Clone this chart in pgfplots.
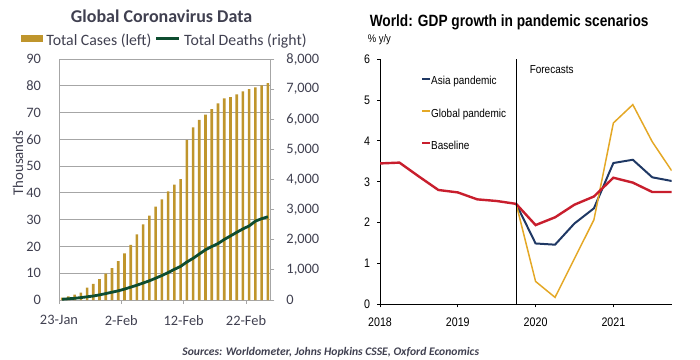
\documentclass[border=0pt]{standalone}
\usepackage{pgfplots}
\pgfplotsset{compat=1.18}
\usepackage{fontspec}
\setmainfont{Carlito}
\newfontfamily\arialn[FakeStretch=0.86]{Liberation Sans}
\newfontfamily\arialt[FakeStretch=0.84]{Liberation Sans}
\definecolor{gold}{RGB}{191,149,44}
\definecolor{dgreen}{RGB}{14,77,48}
\definecolor{textc}{RGB}{64,64,80}
\definecolor{gridc}{RGB}{166,166,166}
\definecolor{navy}{RGB}{31,56,100}
\definecolor{ygold}{RGB}{228,168,38}
\definecolor{bred}{RGB}{200,30,45}

\pgfplotstableread{
d cases deaths
0 0.85 25
1 1.32 41
2 2.02 56
3 2.80 80
4 4.58 106
5 6.06 132
6 7.81 170
7 9.82 213
8 11.95 259
9 14.55 304
10 17.39 362
11 20.63 426
12 24.55 492
13 28.28 565
14 31.48 638
15 34.89 724
16 37.56 813
17 40.55 910
18 43.10 1018
19 45.17 1115
20 59.8 1261
21 64.5 1383
22 67.3 1526
23 69.2 1669
24 71.3 1775
25 73.4 1873
26 75.3 2009
27 75.8 2126
28 76.8 2247
29 77.9 2360
30 78.8 2460
31 79.4 2618
32 80.2 2699
33 81.0 2763
}\covid

\begin{document}
\begin{tikzpicture}[x=1pt,y=1pt]
\path[use as bounding box] (0,0) rectangle (350,179.5);

% ---------------- Left chart ----------------
\begin{axis}[
  at={(29.5pt,29.5pt)}, anchor=south west,
  scale only axis, width=106pt, height=120.5pt,
  xmin=-0.5, xmax=33.5, ymin=0, ymax=90,
  axis x line*=bottom, axis y line*=left,
  axis line style={gridc, line width=0.5pt},
  ytick={0,10,...,90},
  xtick={-0.5,9.5,19.5,29.5},
  xticklabels={23-Jan,2-Feb,12-Feb,22-Feb},
  ymajorgrids, grid style={gridc, line width=0.5pt},
  ytick style={draw=none},
  xtick style={gridc, line width=0.5pt},
  tick align=outside, major tick length=2pt,
  /pgf/number format/assume math mode=true,
  tick label style={font=\fontsize{7.2}{8}\selectfont, text=textc},
  yticklabel style={xshift=-3.5pt},
  xticklabel style={yshift=-2.2pt},
  ylabel={Thousands},
  ylabel style={at={(-0.193,0.568)}, anchor=center, rotate=0, font=\fontsize{7.4}{8}\selectfont, text=textc},
  legend columns=2,
  legend style={at={(0.4976,1.0705)}, anchor=center, draw=none, fill=none,
    inner sep=0pt, column sep=1.2pt,
    nodes={inner sep=0.5pt, text height=5pt, text depth=1.5pt},
    font=\fontsize{7.9}{8.5}\selectfont, text=textc},
]
\addplot[ybar, bar width=1.3pt, fill=gold, draw=none, forget plot] table[x=d, y=cases] {\covid};
\addlegendimage{legend image code/.code={\fill[gold] (0pt,0.4pt) rectangle (10.5pt,3.4pt);}}
\addlegendentry{Total Cases (left)\hspace{2pt}}
\addlegendimage{legend image code/.code={\draw[dgreen, line width=1.5pt] (0pt,2pt) -- (11.5pt,2pt);}}
\addlegendentry{Total Deaths (right)}
\end{axis}

\begin{axis}[
  at={(29.5pt,29.5pt)}, anchor=south west,
  scale only axis, width=106pt, height=120.5pt,
  xmin=-0.5, xmax=33.5, ymin=0, ymax=8000,
  axis x line=none, axis y line*=right,
  axis line style={gridc, line width=0.5pt},
  ytick={0,1000,...,8000},
  ytick style={gridc, line width=0.5pt},
  tick align=outside, major tick length=1.7pt,
  /pgf/number format/assume math mode=true,
  /pgf/number format/1000 sep={,},
  scaled y ticks=false,
  tick label style={font=\fontsize{7.2}{8}\selectfont, text=textc},
  yticklabel style={xshift=2.5pt},
]
\addplot[dgreen, line width=1.4pt] table[x=d, y=deaths] {\covid};
\end{axis}

\node[anchor=base, inner sep=0pt, font=\bfseries\fontsize{9}{10}\selectfont, text=textc] at (80.8,168.2) {Global Coronavirus Data};

% ---------------- Right chart ----------------
\begin{axis}[
  at={(190pt,27.35pt)}, anchor=south west,
  scale only axis, width=145.85pt, height=122.5pt,
  xmin=2018, xmax=2021.75, ymin=0, ymax=6,
  axis x line*=bottom, axis y line*=left,
  axis line style={black, line width=0.5pt},
  xtick={2018,2019,2020,2021}, ytick={0,1,...,6},
  tick style={black, line width=0.5pt},
  tick align=outside, major tick length=1.5pt,
  /pgf/number format/assume math mode=true,
  xticklabel style={/pgf/number format/1000 sep={}, yshift=-1.5pt},
  yticklabel style={xshift=0pt},
  tick label style={font=\arialn\fontsize{6.2}{7}\selectfont, text=black},
  legend cell align=left,
  legend style={at={(0.1406,0.932)}, anchor=north west, draw=none, fill=none,
    inner sep=0pt, row sep=10.3pt, column sep=0pt,
    nodes={inner sep=0.3pt, text height=4pt, text depth=1.2pt},
    font=\arialn\fontsize{5.8}{6.5}\selectfont},
  legend image code/.code={\draw[#1, line width=1pt] (0pt,1.7pt) -- (3.6pt,1.7pt);},
]
\addplot[navy, line width=1pt] coordinates {
(2019.75,2.46)(2020,1.49)(2020.25,1.46)(2020.5,1.98)(2020.75,2.35)(2021,3.46)(2021.25,3.54)(2021.5,3.11)(2021.75,3.02)};
\addlegendentry{Asia pandemic}
\addplot[ygold, line width=0.75pt] coordinates {
(2019.75,2.46)(2020,0.56)(2020.25,0.17)(2020.5,1.12)(2020.75,2.07)(2021,4.44)(2021.25,4.89)(2021.5,3.98)(2021.75,3.27)};
\addlegendentry{Global pandemic}
\addplot[bred, line width=1.2pt] coordinates {
(2018,3.45)(2018.25,3.47)(2018.5,3.13)(2018.75,2.80)(2019,2.74)(2019.25,2.57)(2019.5,2.53)(2019.75,2.46)(2020,1.94)(2020.25,2.13)(2020.5,2.44)(2020.75,2.64)(2021,3.10)(2021.25,2.98)(2021.5,2.75)(2021.75,2.75)};
\addlegendentry{Baseline}
\addplot[black, line width=0.5pt, forget plot] coordinates {(2019.75,0)(2019.75,6)};
\node[anchor=base west, inner sep=0pt, font=\arialn\fontsize{5.8}{6.5}\selectfont] at (axis cs:2019.92,5.66) {Forecasts};
\end{axis}

\node[anchor=base west, inner sep=0pt, font=\arialt\bfseries\fontsize{8.15}{9}\selectfont] at (184.7,166.25) {World: GDP growth in pandemic scenarios};
\node[anchor=base west, inner sep=0pt, font=\arialn\fontsize{5.5}{6}\selectfont] at (183.7,158) {\% y/y};

\node[anchor=base, inner sep=0pt, font=\bfseries\itshape\fontsize{5.8}{7}\selectfont, text=textc] at (165.4,1.8) {Sources: Worldometer, Johns Hopkins CSSE, Oxford Economics};
\end{tikzpicture}
\end{document}
